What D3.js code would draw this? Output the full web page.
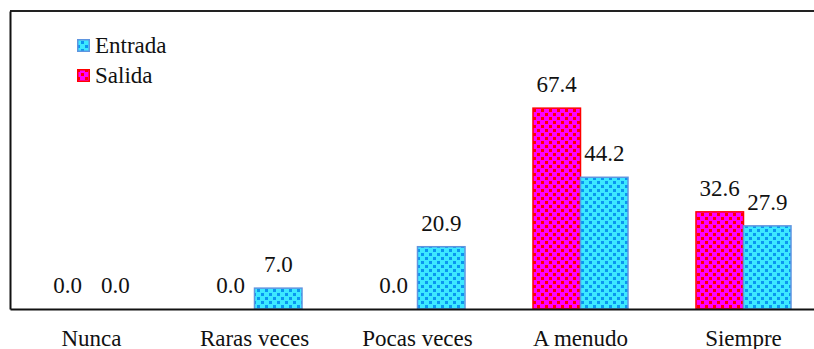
<!DOCTYPE html>
<html>
<head>
<meta charset="utf-8">
<script src="https://cdn.jsdelivr.net/npm/d3@7"></script>
</head>
<body style="margin:0">
<svg id="fig" width="814" height="349"></svg>
<script>
// Frecuencia (%) por categoría
const categories = ["Nunca", "Raras veces", "Pocas veces", "A menudo", "Siempre"];
const seriesNames = ["Salida", "Entrada"];
const salida = [0.0, 0.0, 0.0, 67.4, 32.6];
const entrada = [0.0, 7.0, 20.9, 44.2, 27.9];
const legendOrder = ["Entrada", "Salida"];

const W = 814, H = 349;
const plot = { left: 10, top: 11, right: 825, bottom: 309 };
const textFont = "'Liberation Serif'";

const svg = d3.select("#fig");
const defs = svg.append("defs");

// Dotted fills for each series
const styles = {
  Salida:  { base: "#ff00ff", dot: "#ff0000", stroke: "#ff0000" },
  Entrada: { base: "#3de8ff", dot: "#0a96f0", stroke: "#5f95e0" }
};
Object.entries(styles).forEach(([name, s]) => {
  const p = defs.append("pattern")
    .attr("id", "pat-" + name)
    .attr("patternUnits", "userSpaceOnUse")
    .attr("width", 8).attr("height", 8);
  p.append("rect").attr("width", 8).attr("height", 8).attr("fill", s.base);
  p.append("rect").attr("x", 1).attr("y", 1).attr("width", 3).attr("height", 3).attr("fill", s.dot);
  p.append("rect").attr("x", 5).attr("y", 5).attr("width", 3).attr("height", 3).attr("fill", s.dot);
});

const x = d3.scaleBand()
  .domain(categories)
  .range([plot.left, plot.right])
  .paddingInner(0.417)
  .paddingOuter(0.2085);

const xs = d3.scaleBand()
  .domain(seriesNames)
  .range([0, x.bandwidth()]);

const y = d3.scaleLinear()
  .domain([0, 100])
  .range([plot.bottom, plot.top]);

const points = categories.flatMap((c, i) => [
  { cat: c, name: "Salida", value: salida[i] },
  { cat: c, name: "Entrada", value: entrada[i] }
]);
const px = d => x(d.cat) + xs(d.name);

// Bars
svg.selectAll("rect.bar")
  .data(points.filter(d => d.value > 0))
  .join("rect")
  .attr("class", "bar")
  .attr("x", px)
  .attr("y", d => y(d.value))
  .attr("width", xs.bandwidth())
  .attr("height", d => y(0) - y(d.value))
  .attr("fill", d => `url(#pat-${d.name})`)
  .attr("stroke", d => styles[d.name].stroke)
  .attr("stroke-width", 1.5);

// Value labels
svg.selectAll("text.value")
  .data(points)
  .join("text")
  .attr("class", "value")
  .attr("x", d => px(d) + xs.bandwidth() / 2)
  .attr("y", d => y(d.value) - 16)
  .attr("text-anchor", "middle")
  .style("font-family", textFont)
  .style("font-size", "23px")
  .attr("fill", "#111")
  .text(d => d.value.toFixed(1));

// Frame: top edge
svg.append("line")
  .attr("x1", plot.left).attr("x2", W)
  .attr("y1", plot.top).attr("y2", plot.top)
  .attr("stroke", "#222").attr("stroke-width", 2);

// Left axis (line only)
const yAxis = svg.append("g")
  .attr("transform", `translate(${plot.left},0)`)
  .call(d3.axisLeft(y).ticks(0).tickSize(0).tickSizeOuter(0));
yAxis.select(".domain").attr("stroke", "#111").attr("stroke-width", 2);

// Bottom axis line; category labels placed from the same band scale
const xAxis = svg.append("g")
  .attr("transform", `translate(0,${plot.bottom})`)
  .call(d3.axisBottom(x).tickSize(0).tickSizeOuter(0).tickFormat(""));
xAxis.select(".domain").attr("stroke", "#111").attr("stroke-width", 2);

svg.selectAll("text.cat")
  .data(categories)
  .join("text")
  .attr("class", "cat")
  .attr("x", d => x(d) + x.bandwidth() / 2)
  .attr("y", plot.bottom + 37)
  .attr("text-anchor", "middle")
  .style("font-family", textFont)
  .style("font-size", "23px")
  .attr("fill", "#111")
  .text(d => d);

// Legend
svg.selectAll("rect.key")
  .data(legendOrder)
  .join("rect")
  .attr("class", "key")
  .attr("x", 77.75).attr("y", (d, i) => 39.75 + i * 30)
  .attr("width", 11.5).attr("height", 11.5)
  .attr("fill", d => `url(#pat-${d})`)
  .attr("stroke", d => styles[d].stroke)
  .attr("stroke-width", 1.5);
svg.selectAll("text.key")
  .data(legendOrder)
  .join("text")
  .attr("class", "key")
  .attr("x", 95).attr("y", (d, i) => 53 + i * 30)
  .style("font-family", textFont)
  .style("font-size", "23px")
  .attr("fill", "#111")
  .text(d => d);
</script>
</body>
</html>
